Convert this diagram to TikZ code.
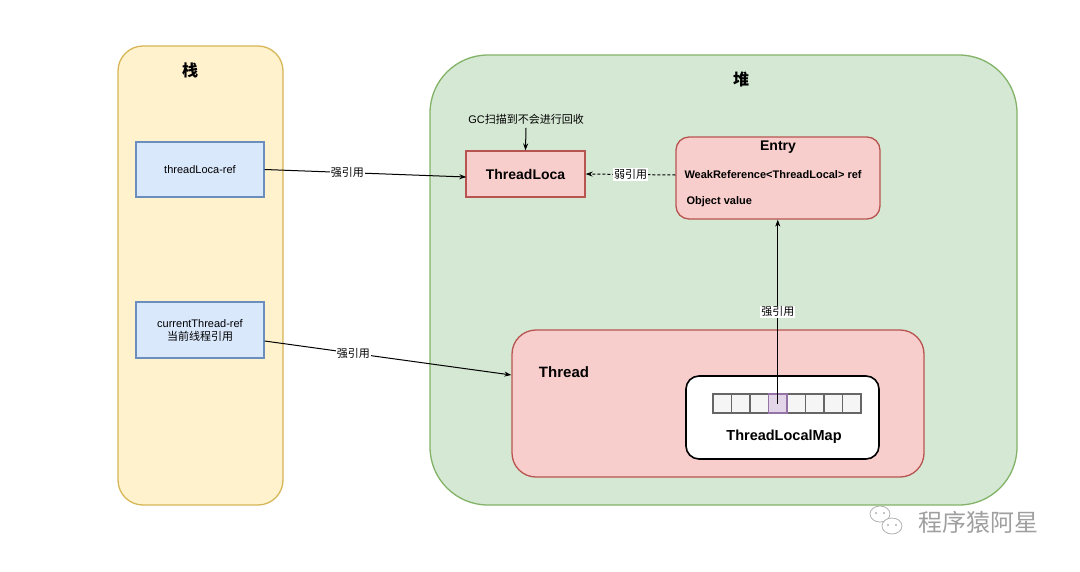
\documentclass[tikz,border=0pt]{standalone}
\usepackage{fontspec}
\setmainfont{Liberation Sans}
\newfontfamily\cjk{Noto Sans CJK SC}
\usetikzlibrary{arrows.meta}
\definecolor{stackfill}{HTML}{FFF2CC}
\definecolor{stackline}{HTML}{D6B656}
\definecolor{heapfill}{HTML}{D5E8D4}
\definecolor{heapline}{HTML}{82B366}
\definecolor{reffill}{HTML}{DAE8FC}
\definecolor{refline}{HTML}{6C8EBF}
\definecolor{objfill}{HTML}{F8CECC}
\definecolor{objline}{HTML}{B85450}
\definecolor{cellfill}{HTML}{F5F5F5}
\definecolor{cellline}{HTML}{666666}
\definecolor{slotfill}{HTML}{E1D5E7}
\definecolor{slotline}{HTML}{9673A6}
\newcommand{\fsz}[1]{\fontsize{#1}{#1}\selectfont}

\begin{document}
\begin{tikzpicture}[x=1pt,y=-1pt,line width=1pt,
  area/.style={draw,inner sep=0pt,line width=1.3pt},
  refbox/.style={draw=refline,fill=reffill,minimum width=128pt,minimum height=55pt,
    align=center,font=\fsz{11},line width=1.3pt},
  objbox/.style={draw=objline,fill=objfill,inner sep=0pt,line width=1.3pt},
  cell/.style={draw=cellline,fill=cellfill,minimum width=18.5pt,minimum height=19pt,inner sep=0pt,line width=1.2pt},
  strong/.style={-{Stealth[length=7pt,width=5pt]}},
  weak/.style={-{Stealth[length=7pt,width=5pt]},densely dashed},
  reflabel/.style={fill=white,inner sep=1pt,font=\cjk\fsz{11}},
  boldtext/.style={font=\bfseries\fsz{#1},inner sep=0pt}]
  \useasboundingbox (0,0) rectangle (1080,571);
  % Stack
  \node[area,draw=stackline,fill=stackfill,rounded corners=25pt,
    minimum width=165pt,minimum height=459pt] (stack) at (200.5,275.5) {};
  \node[font=\cjk\bfseries\fsz{16}] (stacklbl) at (190,70) {栈};
  \node[refbox] (tlref) at (200,169.5) {threadLoca-ref};
  \node[refbox,minimum height=56pt] (ctref) at (200,330) {currentThread-ref\\[2pt]{\cjk 当前线程引用}};
  % Heap
  \node[area,draw=heapline,fill=heapfill,rounded corners=58pt,
    minimum width=587pt,minimum height=450pt] (heap) at (723.5,280) {};
  \node[font=\cjk\bfseries\fsz{16}] (heaplbl) at (741,79) {堆};
  \node[font=\fsz{11}] (gc) at (526,119) {GC{\cjk 扫描到不会进行回收}};
  \node[objbox,minimum width=119pt,minimum height=46pt,font=\bfseries\fsz{14}] (tloca) at (525.5,174) {ThreadLoca};
  % Entry
  \node[objbox,rounded corners=13pt,minimum width=204pt,minimum height=82pt] (entry) at (778,178) {};
  \node[boldtext=14] (entrylbl) at (778,147) {Entry};
  \node[boldtext=11,anchor=west] (weakref) at (684,175) {WeakReference<ThreadLocal> ref};
  \node[boldtext=11,anchor=west] (objval) at (686,202) {Object value};
  % Thread
  \node[objbox,rounded corners=24pt,minimum width=412pt,minimum height=147pt] (thread) at (718,403.5) {};
  \node[boldtext=15] (threadlbl) at (564,372) {Thread};
  \node[draw,fill=white,rounded corners=13pt,line width=1.6pt,
    minimum width=193pt,minimum height=83pt] (tlm) at (782.5,417.5) {};
  \node[boldtext=14.5] (tlmlbl) at (784,437) {ThreadLocalMap};
  \foreach \i in {0,...,7}
    \node[cell] (c\i) at ({713+18.5*(\i+0.5)},403.5) {};
  \node[cell,draw=slotline,fill=slotfill] (c3) at ({713+18.5*3.5},403.5) {};
  % References
  \draw[strong] (tlref.east) -- node[reflabel,pos=0.41] {强引用} ([xshift=1pt,yshift=-3pt]tloca.west);
  \draw[strong] ([yshift=-11pt]ctref.east) -- node[reflabel,pos=0.36] {强引用} ([yshift=28.5pt]thread.west);
  \draw[weak] ([yshift=3pt]entry.west) -- node[reflabel] {弱引用} (tloca.east);
  \draw[strong] (gc.south) -- (tloca.north);
  \draw[strong] (c3.center) -- node[reflabel,pos=0.5] {强引用} (c3.center |- entry.south);
  % Watermark
  \draw[gray!60,line width=0.8pt,fill=white] (880,514) ellipse (10 and 8);
  \draw[gray!60,line width=0.8pt,fill=white] (892,526) ellipse (10 and 8);
  \foreach \dx in {-4,4} {
    \fill[gray!60] (880+\dx,513) circle (1.2);
    \fill[gray!60] (892+\dx,525) circle (1.2);
  }
  \node[font=\cjk\fsz{24},text=gray!75] (mark) at (978,522) {程序猿阿星};
\end{tikzpicture}
\end{document}
